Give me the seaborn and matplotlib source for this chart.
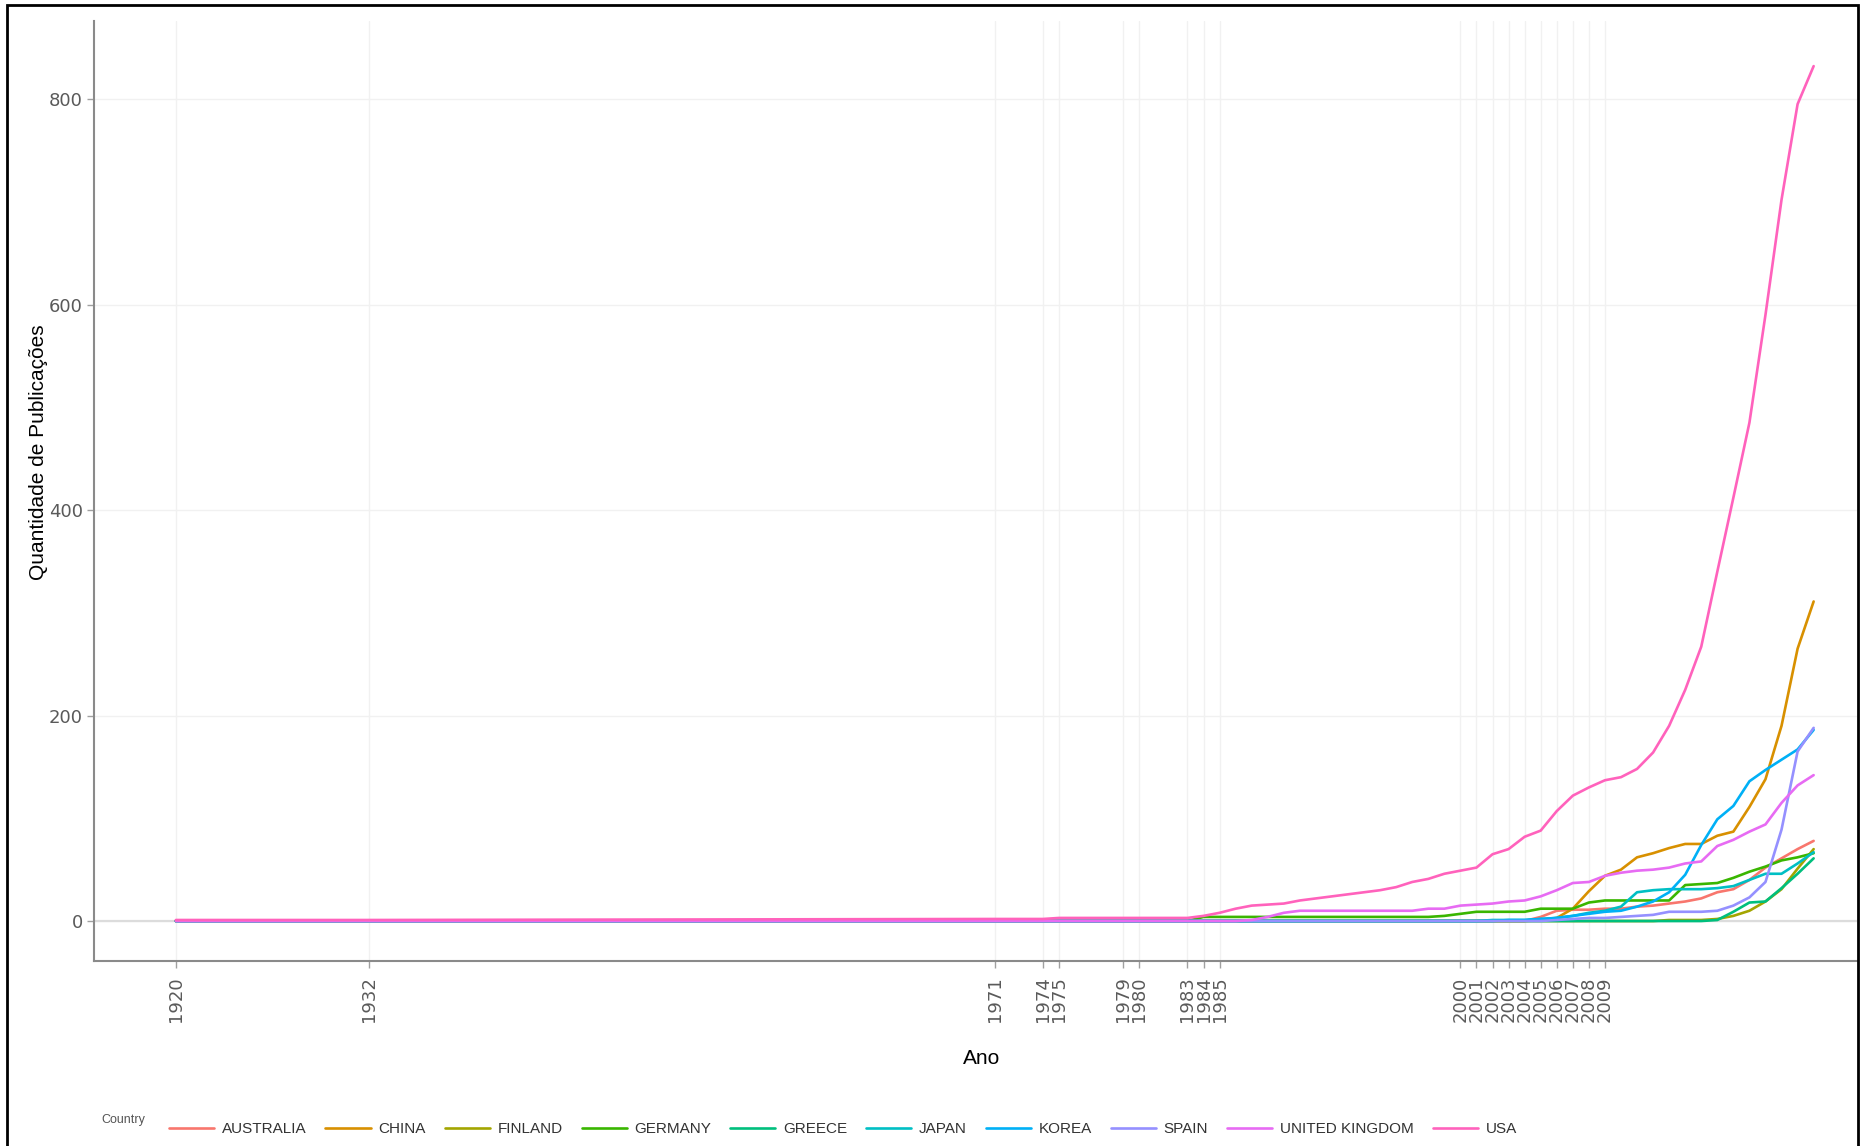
import pandas as pd
import matplotlib
matplotlib.use("Agg")
import matplotlib.pyplot as plt
import seaborn as sns
from matplotlib.lines import Line2D
from matplotlib.patches import Rectangle

# years with a vertex on the lines
years = [1920, 1932, 1971, 1974, 1975, 1979, 1980, 1983, 1984, 1985] + list(range(1986, 2023))
break_years = [1920, 1932, 1971, 1974, 1975, 1979, 1980, 1983, 1984, 1985,
               2000, 2001, 2002, 2003, 2004, 2005, 2006, 2007, 2008, 2009]

countries = ["AUSTRALIA", "CHINA", "FINLAND", "GERMANY", "GREECE",
             "JAPAN", "KOREA", "SPAIN", "UNITED KINGDOM", "USA"]
colors = ["#F8766D", "#D89000", "#A3A500", "#39B600", "#00BF7D",
          "#00BFC4", "#00B0F6", "#9590FF", "#E76BF3", "#FF62BC"]

# cumulative publications (1920..1985 | 1986..1999 | 2000..2009 | 2010..2022)
australia = [0, 0, 0, 0, 0, 0, 0, 0, 0, 0,
             0, 0, 0, 0, 0, 0, 0, 0, 0, 0, 0, 0, 0, 0,
             0, 0, 0, 0, 0, 4, 10, 11, 11, 12,
             12, 14, 15, 17, 19, 22, 28, 31, 40, 52, 61, 70, 78]
china = [0, 0, 0, 0, 0, 0, 0, 0, 0, 0,
         0, 0, 0, 0, 0, 0, 0, 0, 0, 0, 0, 0, 0, 0,
         0, 0, 0, 0, 0, 1, 3, 12, 29, 44,
         50, 62, 66, 71, 75, 75, 83, 87, 111, 138, 190, 265, 311]
finland = [0, 0, 0, 0, 0, 0, 0, 0, 0, 0,
           0, 0, 0, 0, 0, 0, 0, 0, 0, 0, 0, 0, 0, 0,
           0, 0, 0, 0, 0, 0, 0, 0, 0, 0,
           0, 0, 0, 1, 1, 1, 2, 5, 10, 19, 31, 51, 70]
germany = [0, 0, 0, 0, 0, 0, 0, 0, 4, 4,
           4, 4, 4, 4, 4, 4, 4, 4, 4, 4, 4, 4, 4, 5,
           7, 9, 9, 9, 9, 12, 12, 12, 18, 20,
           20, 20, 20, 20, 35, 36, 37, 42, 48, 53, 59, 62, 66]
greece = [0, 0, 0, 0, 0, 0, 0, 0, 0, 0,
          0, 0, 0, 0, 0, 0, 0, 0, 0, 0, 0, 0, 0, 0,
          0, 0, 0, 0, 0, 0, 0, 0, 0, 0,
          0, 0, 0, 0, 0, 0, 1, 9, 18, 19, 32, 46, 61]
japan = [0, 0, 0, 0, 0, 0, 0, 0, 0, 0,
         0, 0, 0, 0, 0, 0, 0, 0, 0, 0, 0, 0, 0, 0,
         0, 0, 1, 1, 1, 2, 3, 5, 8, 10,
         14, 28, 30, 31, 31, 31, 32, 34, 40, 46, 46, 56, 67]
korea = [0, 0, 0, 0, 0, 0, 0, 0, 0, 0,
         0, 0, 0, 0, 0, 0, 0, 0, 0, 0, 0, 0, 0, 0,
         0, 0, 0, 1, 1, 2, 3, 5, 7, 9,
         10, 14, 19, 28, 45, 74, 99, 112, 136, 147, 157, 167, 186]
spain = [0, 0, 0, 0, 0, 0, 0, 0, 0, 0,
         0, 0, 0, 0, 0, 0, 0, 0, 0, 0, 0, 0, 0, 0,
         0, 0, 0, 0, 0, 0, 1, 2, 3, 3,
         4, 5, 6, 9, 9, 9, 10, 15, 23, 38, 89, 165, 188]
united_kingdom = [0, 0, 0, 0, 0, 0, 0, 0, 0, 0,
                  0, 1, 4, 8, 10, 10, 10, 10, 10, 10, 10, 10, 12, 12,
                  15, 16, 17, 19, 20, 24, 30, 37, 38, 44,
                  47, 49, 50, 52, 56, 58, 73, 79, 87, 94, 115, 132, 142]
usa = [1, 1, 2, 2, 3, 3, 3, 3, 5, 8,
       12, 15, 16, 17, 20, 22, 24, 26, 28, 30, 33, 38, 41, 46,
       49, 52, 65, 70, 82, 88, 107, 122, 130, 137,
       140, 148, 164, 190, 225, 267, 340, 412, 485, 590, 702, 795, 832]

series = [australia, china, finland, germany, greece, japan, korea, spain, united_kingdom, usa]
rows = []
for name, vals in zip(countries, series):
    for y, v in zip(years, vals):
        rows.append({"Ano": y, "Qtd": v, "Country": name})
df = pd.DataFrame(rows)

sns.set_theme(style="white")
plt.rcParams["font.family"] = ["DejaVu Sans"]

fig = plt.figure(figsize=(18.65, 11.46), dpi=100)
ax = fig.add_axes([94 / 1865, 1 - 961 / 1146, (1857 - 94) / 1865, (961 - 21) / 1146])

ax.axhline(0, color="#DCDCDC", lw=1.6, zorder=1)
sns.lineplot(data=df, x="Ano", y="Qtd", hue="Country", hue_order=countries,
             palette=colors, estimator=None, lw=1.9, ax=ax, legend=False, zorder=3)

ax.set_xlim(1914.9, 2024.7)
ax.set_ylim(-38.9, 875.9)
ax.set_xticks(break_years)
ax.set_xticklabels([str(y) for y in break_years], rotation=90)
ax.set_yticks([0, 200, 400, 600, 800])
ax.grid(True, color="#F1F1F1", lw=1.0)
ax.set_axisbelow(True)

for s in ["top", "right"]:
    ax.spines[s].set_visible(False)
for s in ["left", "bottom"]:
    ax.spines[s].set_color("#8A8A8A")
    ax.spines[s].set_linewidth(1.5)

ax.tick_params(axis="both", bottom=True, left=True, length=5, width=1,
               color="#A0A0A0", labelcolor="#5A5A5A", labelsize=13)
ax.tick_params(axis="x", pad=6)
ax.tick_params(axis="y", pad=3)

ax.set_xlabel("Ano", fontsize=15, family=["Liberation Sans", "DejaVu Sans"], color="black")
ax.set_ylabel("Quantidade de Publicações", fontsize=15,
              family=["Liberation Sans", "DejaVu Sans"], color="black")
ax.xaxis.set_label_coords((982 - 94) / 1763, (961 - 1058) / 940)
ax.yaxis.set_label_coords((39 - 94) / 1763, (961 - 452) / 940)
ax.xaxis.label.set_va("center")
ax.yaxis.label.set_va("center")

handles = [Line2D([0], [0], color=c, lw=1.9) for c in colors]
leg = fig.legend(handles, countries, loc="center left",
                 bbox_to_anchor=(169 / 1865, 1 - 1129 / 1146), ncol=10, frameon=False,
                 prop={"family": ["Liberation Sans", "DejaVu Sans"], "size": 11},
                 handlelength=2.95, handletextpad=0.5, columnspacing=1.25,
                 borderpad=0, borderaxespad=0)
for t in leg.get_texts():
    t.set_color("#333333")
fig.text(101 / 1865, 1 - 1120 / 1146, "Country", fontsize=9, color="#555555",
         family=["Liberation Sans", "DejaVu Sans"], va="center")

fig.add_artist(Rectangle((7 / 1865, -0.02), (1858 - 7) / 1865, 1.02 - 5 / 1146,
                         transform=fig.transFigure, fill=False, ec="black", lw=2,
                         clip_on=False))

fig.savefig("out.png", dpi=100)
